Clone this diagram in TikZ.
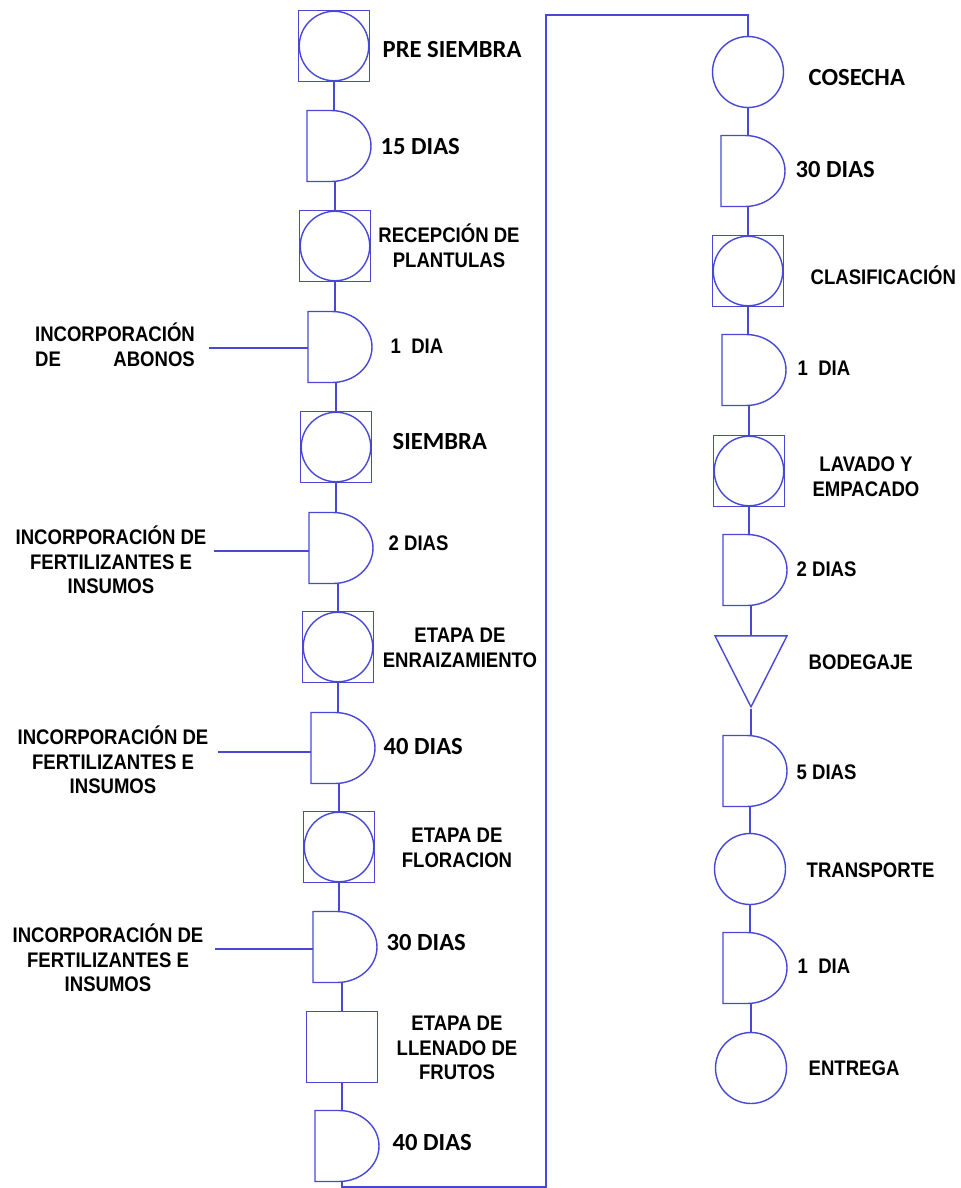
\documentclass[tikz,border=0pt]{standalone}
\usepackage{fontspec}
\usetikzlibrary{shapes.geometric}
\newfontfamily\narrowfont[FakeStretch=0.88]{Liberation Sans}
\newfontfamily\calfont{Carlito}
\definecolor{flow}{RGB}{72,72,215}
\tikzset{
  opbox/.style={draw, minimum size=1.42cm, inner sep=0pt,
    path picture={\draw (path picture bounding box.center) circle[radius=0.695cm];}},
  opsq/.style={draw, minimum size=1.42cm, inner sep=0pt},
  opcirc/.style={draw, circle, minimum size=1.42cm, inner sep=0pt},
  dly/.style={minimum width=1.28cm, minimum height=1.42cm, inner sep=0pt, outer sep=0pt,
    append after command={\pgfextra{\draw[flow, line width=0.8pt]
      (\tikzlastnode.north west) -- ([xshift=0.48cm]\tikzlastnode.north west)
      arc[start angle=90, end angle=-90, x radius=0.8cm, y radius=0.71cm]
      -- (\tikzlastnode.south west) -- cycle;}}},
  store/.style={draw, isosceles triangle, shape border rotate=270,
    isosceles triangle stretches, minimum width=1.44cm, minimum height=1.42cm, inner sep=0pt},
  lbl/.style={font=\narrowfont\bfseries\fontsize{12}{14}\selectfont, text=black, inner sep=0pt},
  clbl/.style={font=\calfont\bfseries\fontsize{14}{16}\selectfont, text=black, inner sep=0pt}
}
\begin{document}
\begin{tikzpicture}[x=0.02cm, y=-0.02cm, color=flow, line width=0.8pt]
  \useasboundingbox (0,0) rectangle (961,1188);
  % left column
  \node[opbox] (ps) at (334,46) {};
  \node[dly] (d1) at (339,146) {};
  \node[opbox] (rec) at (335,246) {};
  \node[dly] (d2) at (340,347) {};
  \node[opbox] (sie) at (336,447) {};
  \node[dly] (d3) at (341,548) {};
  \node[opbox] (enr) at (338,647) {};
  \node[dly] (d4) at (343,748) {};
  \node[opbox] (flo) at (339,847) {};
  \node[dly] (d5) at (345,947) {};
  \node[opsq] (lle) at (342,1047) {};
  \node[dly] (d6) at (347,1146) {};
  % right column
  \node[opcirc] (cos) at (748,72) {};
  \node[dly] (r1) at (753,171) {};
  \node[opbox] (cla) at (748,271) {};
  \node[dly] (r2) at (754,370) {};
  \node[opbox] (lav) at (749,471) {};
  \node[dly] (r3) at (755,570) {};
  \node[store] (bod) at (751,658) {};
  \node[dly] (r4) at (755,771) {};
  \node[opcirc] (tra) at (750,869) {};
  \node[dly] (r5) at (755,968) {};
  \node[opcirc] (ent) at (751,1068) {};
  \coordinate (tb) at (546,1187);
  \coordinate (tt) at (546,15);
  \draw (ps) -- (ps |- d1.north);
  \draw (d1.south -| rec) -- (rec);
  \draw (rec) -- (rec |- d2.north);
  \draw (d2.south -| sie) -- (sie);
  \draw (sie) -- (sie |- d3.north);
  \draw (d3.south -| enr) -- (enr);
  \draw (enr) -- (enr |- d4.north);
  \draw (d4.south -| flo) -- (flo);
  \draw (flo) -- (flo |- d5.north);
  \draw (d5.south -| lle) -- (lle);
  \draw (lle) -- (lle |- d6.north);
  \draw (d6.south -| lle) |- (tb) -- (tt) -| (cos);
  \draw (cos) -- (cos |- r1.north);
  \draw (r1.south -| cla) -- (cla);
  \draw (cla) -- (cla |- r2.north);
  \draw (r2.south -| lav) -- (lav);
  \draw (lav) -- (lav |- r3.north);
  \draw (r3.south -| bod) -- (bod);
  \draw (bod) -- (bod |- r4.north);
  \draw (r4.south -| tra) -- (tra);
  \draw (tra) -- (tra |- r5.north);
  \draw (r5.south -| ent) -- (ent);
  % inputs
  \coordinate (c1) at (209,348);
  \coordinate (c2) at (214,551);
  \coordinate (c3) at (218,752);
  \coordinate (c4) at (215,949);
  \draw (c1) -- (c1 -| d2.west);
  \draw (c2) -- (c2 -| d3.west);
  \draw (c3) -- (c3 -| d4.west);
  \draw (c4) -- (c4 -| d5.west);
  \node[lbl, align=left] (ab) at (115,345) {INCORPORACIÓN\\DE\hskip 0pt plus 1filll ABONOS};
  \node[lbl, align=center] (fe1) at (111,560) {INCORPORACIÓN DE\\FERTILIZANTES E\\INSUMOS};
  \node[lbl, align=center] (fe2) at (113,760) {INCORPORACIÓN DE\\FERTILIZANTES E\\INSUMOS};
  \node[lbl, align=center] (fe3) at (108,958) {INCORPORACIÓN DE\\FERTILIZANTES E\\INSUMOS};
  % left labels
  \node[clbl, anchor=west] (lps) at (382,50) {PRE SIEMBRA};
  \node[clbl, anchor=west] (ld1) at (380,147) {15 DIAS};
  \node[lbl, align=center] (lrec) at (449,246) {RECEPCIÓN DE\\PLANTULAS};
  \node[lbl, anchor=west] (ld2) at (390,346) {1\ \ DIA};
  \node[clbl, anchor=west] (lsie) at (392,442) {SIEMBRA};
  \node[lbl, anchor=west] (ld3) at (388,543) {2 DIAS};
  \node[lbl, align=center] (lenr) at (460,648) {ETAPA DE\\ENRAIZAMIENTO};
  \node[clbl, anchor=west] (ld4) at (383,747) {40 DIAS};
  \node[lbl, align=center] (lflo) at (457,848) {ETAPA DE\\FLORACION};
  \node[clbl, anchor=west] (ld5) at (386,943) {30 DIAS};
  \node[lbl, align=center] (llle) at (457,1048) {ETAPA DE\\LLENADO DE\\FRUTOS};
  \node[clbl, anchor=west] (ld6) at (392,1143) {40 DIAS};
  % right labels
  \node[clbl, anchor=west] (lcos) at (808,78) {COSECHA};
  \node[clbl, anchor=west] (lr1) at (795,170) {30 DIAS};
  \node[lbl, anchor=west] (lcla) at (810,275) {CLASIFICACIÓN};
  \node[lbl, anchor=west] (lr2) at (797,368) {1\ \ DIA};
  \node[lbl, align=center] (llav) at (866,477) {LAVADO Y\\EMPACADO};
  \node[lbl, anchor=west] (lr3) at (796,569) {2 DIAS};
  \node[lbl, anchor=west] (lbod) at (808,662) {BODEGAJE};
  \node[lbl, anchor=west] (lr4) at (796,772) {5 DIAS};
  \node[lbl, anchor=west] (ltra) at (806,870) {TRANSPORTE};
  \node[lbl, anchor=west] (lr5) at (797,966) {1\ \ DIA};
  \node[lbl, anchor=west] (lent) at (808,1068) {ENTREGA};
\end{tikzpicture}
\end{document}
